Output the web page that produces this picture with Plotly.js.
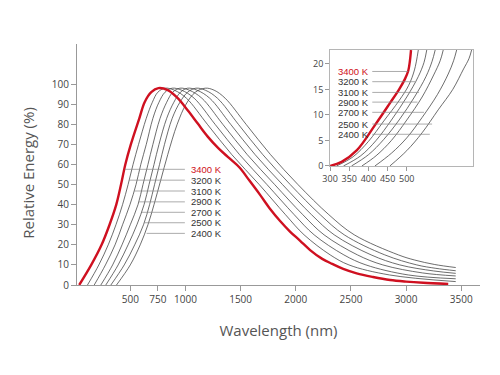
<!DOCTYPE html>
<html>
<head>
<meta charset="utf-8">
<script src="https://cdn.plot.ly/plotly-3.0.1.min.js"></script>
<style>html,body{margin:0;padding:0;background:#fff;}#chart{width:500px;height:375px;}</style>
</head>
<body>
<div id="chart"></div>
<script>
// ---- Series names ----
const seriesNames = ["3400 K", "3200 K", "3100 K", "2900 K", "2700 K", "2500 K", "2400 K"];

// ---- Main chart: wavelength (nm) and relative energy (%) per series ----
const wl3400 = [37,146,240,312,373,416,455,505,582,630,690,755,840,930,1020,1110,1200,1300,1400,1490,1580,1675,1766,1856,1950,2040,2130,2240,2330,2430,2552,2700,2855,3000,3155,3382];
const en3400 = [0,10,20,30,40,50,60,70,83,91,96,98,97,93,87,80.5,74,68,63,58.5,52,45,38,32,26.5,22,17.4,13,10.5,8,5.8,4,2.5,1.7,1.1,0.5];

const wl3200 = [112,215,300,370,430,480,525,575,645,700,750,815,900,1009,1199,1419,1669,1907,2075,2312,2482,2850,3450];
const en3200 = [0,10,20,30,40,50,60,70,83,91,96,98,97,93,80,65,50,35,25,15,10,5,1.7];

const wl3100 = [173,275,362,430,497,552,595,645,705,760,815,880,965,1079,1269,1489,1739,1986,2166,2436,2636,3020,3450];
const en3100 = [0,10,20,30,40,50,60,70,83,91,96,98,97,93,80,65,50,35,25,15,10,5,3.1];

const wl2900 = [233,340,425,500,570,615,660,705,770,830,885,950,1035,1149,1339,1559,1809,2064,2256,2559,2789,3150,3450];
const en2900 = [0,10,20,30,40,50,60,70,83,91,96,98,97,93,80,65,50,35,25,15,10,6,4.5];

const wl2700 = [278,390,480,560,625,670,715,760,830,895,955,1020,1105,1220,1410,1630,1880,2143,2348,2683,2943,3250,3450];
const en2700 = [0,10,20,30,40,50,60,70,83,91,96,98,97,93,80,65,50,35,25,15,10,7,5.8];

const wl2500 = [324,445,540,620,675,720,765,810,880,950,1020,1095,1180,1290,1480,1700,1950,2222,2439,2807,3097,3270,3450];
const en2500 = [0,10,20,30,40,50,60,70,83,91,96,98,97,93,80,65,50,35,25,15,10,8.3,7.1];

const wl2400 = [375,500,590,660,715,775,840,925,1005,1090,1180,1260,1360,1550,1770,2020,2300,2530,2930,3080,3260,3450];
const en2400 = [0,10,20,30,40,52,65,80,90,96,98,97,93,80,65,50,35,25,15,12.4,10.2,8.7];

// ---- Inset: 300-670 nm zoom ----
const iwl3400 = [300,330,370,417,456,480,495,504,508,511];
const ien3400 = [0,0.8,3.1,8,12.3,15,17,18.7,20.5,22.7];
const iwl3200 = [317,360,400,440,480,505,520,530];
const ien3200 = [0,1.8,4.8,8.8,12.8,15.8,18.8,22.7];
const iwl3100 = [335,380,420,460,500,530,545,552];
const ien3100 = [0,2,5,9,13.5,17.5,20.3,22.7];
const iwl2900 = [356,400,440,480,520,550,566,574];
const ien2900 = [0,2.2,5.2,9,13.5,17.5,20.5,22.7];
const iwl2700 = [383,420,460,500,540,570,587,595];
const ien2700 = [0,2,5,9,13.5,17.8,20.6,22.7];
const iwl2500 = [417,460,500,540,580,608,622,630];
const ien2500 = [0,2.5,5.5,9.5,14,18,20.6,22.7];
const iwl2400 = [456,500,540,582,620,648,662,669];
const ien2400 = [0,3,6.5,11,15,19,21,22.7];

// ---- Tick labels ----
const mainXTicks = [500,750,1000,1500,2000,2500,3000,3500];
const mainYTicks = [0,10,20,30,40,50,60,70,80,90,100];
const insetXTicks = [300,350,400,450,500];
const insetYTicks = [0,5,10,15,20];

// ---- Label positions (leader lines) ----
const mainLabelY = [57.6,52.2,46.8,41.4,36.2,31,25.7];
const mainLeaderStart = [450,491,538,578,605,626,648];
const insetLabelY = [18.5,16.5,14.4,12.5,10.5,8.2,6.2];
const insetLeaderEnd = [504,522,532,528,545,566,560];

const RED = "#cf1020";
const DARK = "#3c3c3c";

const mainX = [wl3400, wl3200, wl3100, wl2900, wl2700, wl2500, wl2400];
const mainY = [en3400, en3200, en3100, en2900, en2700, en2500, en2400];
const insX = [iwl3400, iwl3200, iwl3100, iwl2900, iwl2700, iwl2500, iwl2400];
const insY = [ien3400, ien3200, ien3100, ien2900, ien2700, ien2500, ien2400];

const traces = [];
// draw black first, red on top
for (let pass = 0; pass < 2; pass++) {
  for (let i = 0; i < seriesNames.length; i++) {
    const isRed = i === 0;
    if ((pass === 0 && isRed) || (pass === 1 && !isRed)) continue;
    traces.push({
      x: mainX[i], y: mainY[i], type: "scatter", mode: "lines", name: seriesNames[i],
      line: {color: isRed ? RED : DARK, width: isRed ? 2.4 : 0.75, shape: "spline", smoothing: 1},
      xaxis: "x", yaxis: "y", hoverinfo: "skip"
    });
    traces.push({
      x: insX[i], y: insY[i], type: "scatter", mode: "lines", name: seriesNames[i],
      line: {color: isRed ? RED : DARK, width: isRed ? 2.4 : 0.75, shape: "spline", smoothing: 1},
      xaxis: "x2", yaxis: "y2", hoverinfo: "skip"
    });
  }
}

const shapes = [];
const annotations = [];
const labelFont = {family: "Liberation Sans, Arial, sans-serif", size: 9.5};
for (let i = 0; i < seriesNames.length; i++) {
  const col = i === 0 ? RED : "#333";
  shapes.push({type: "line", xref: "x", yref: "y", x0: mainLeaderStart[i], x1: 995,
    y0: mainLabelY[i], y1: mainLabelY[i], line: {color: "#888", width: 0.7}});
  annotations.push({xref: "x", yref: "y", x: 1035, y: mainLabelY[i], text: seriesNames[i],
    showarrow: false, xanchor: "left", yanchor: "middle", font: Object.assign({color: col}, labelFont)});
  shapes.push({type: "line", xref: "x2", yref: "y2", x0: 410, x1: insetLeaderEnd[i],
    y0: insetLabelY[i], y1: insetLabelY[i], line: {color: "#888", width: 0.7}});
  annotations.push({xref: "x2", yref: "y2", x: 407, y: insetLabelY[i], text: seriesNames[i],
    showarrow: false, xanchor: "right", yanchor: "middle", font: Object.assign({color: col}, labelFont)});
}
// y-axis title as annotation so it can sit where the reference has it
annotations.push({xref: "paper", yref: "paper", x: -0.122, y: 0.465, text: "Relative Energy (%)",
  textangle: -90, showarrow: false, xanchor: "center", yanchor: "middle",
  font: {family: "Open Sans, sans-serif", size: 15, color: "#555"}});

const tickFont = {family: "Open Sans, sans-serif", size: 10, color: "#444"};
const insetTickFont = {family: "Open Sans, sans-serif", size: 9, color: "#444"};
const layout = {
  width: 500, height: 375,
  margin: {l: 77, r: 20, t: 44, b: 90},
  paper_bgcolor: "#fff", plot_bgcolor: "#fff",
  showlegend: false,
  xaxis: {
    range: [17, 3670], tickvals: mainXTicks, ticktext: mainXTicks.map(String), tickangle: 0,
    showgrid: false, zeroline: false, showline: true, linecolor: "#999", linewidth: 1,
    ticks: "outside", ticklen: 5, tickcolor: "#999", tickfont: tickFont,
    title: {text: "Wavelength (nm)", font: {family: "Open Sans, sans-serif", size: 15, color: "#555"}, standoff: 20}
  },
  yaxis: {
    range: [0, 120], tickvals: mainYTicks, ticktext: mainYTicks.map(String),
    showgrid: false, zeroline: false, showline: true, linecolor: "#999", linewidth: 1,
    ticks: "outside", ticklen: 5, tickcolor: "#999", tickfont: tickFont
  },
  xaxis2: {
    domain: [0.628, 0.983], anchor: "y2", range: [300, 673], tickvals: insetXTicks, tickangle: 0,
    showgrid: false, zeroline: false, showline: true, mirror: true, linecolor: "#b5b5b5", linewidth: 1,
    ticks: "outside", ticklen: 4, tickcolor: "#999", tickfont: insetTickFont
  },
  yaxis2: {
    domain: [0.494, 0.975], anchor: "x2", range: [0, 22.7], tickvals: insetYTicks,
    showgrid: false, zeroline: false, showline: true, mirror: true, linecolor: "#b5b5b5", linewidth: 1,
    ticks: "outside", ticklen: 4, tickcolor: "#999", tickfont: insetTickFont
  },
  shapes: shapes,
  annotations: annotations
};

Plotly.newPlot("chart", traces, layout, {staticPlot: true, displayModeBar: false});
</script>
</body>
</html>
